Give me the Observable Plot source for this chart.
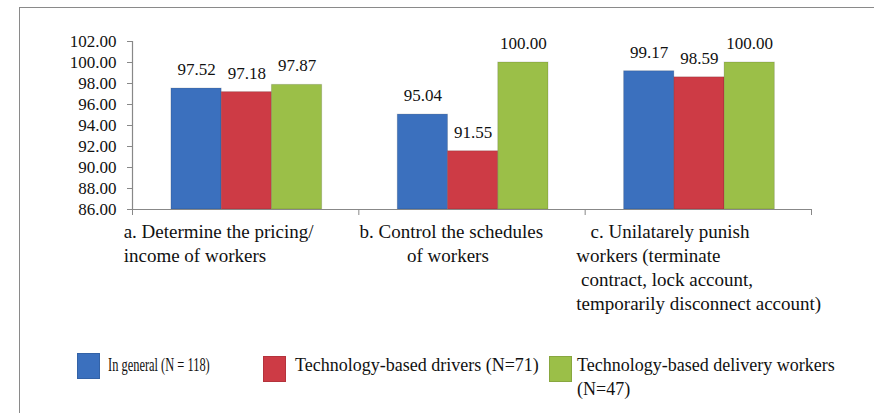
<!DOCTYPE html>
<html>
<head>
<meta charset="utf-8">
<script src="https://cdn.jsdelivr.net/npm/d3@7"></script>
<script src="https://cdn.jsdelivr.net/npm/@observablehq/plot@0.6"></script>
<style>
  html, body { margin: 0; padding: 0; background: #fff; }
  body { width: 874px; height: 413px; overflow: hidden; position: relative; font-family: "Liberation Serif", "DejaVu Serif", serif; }
  #frame { position: absolute; left: 19px; top: 7px; width: 900px; height: 450px; border-left: 1.5px solid #8a8a8a; border-top: 1.5px solid #8a8a8a; }
  #chart { position: absolute; left: 0; top: 0; }
  #legend { position: absolute; left: 0; top: 0; width: 874px; height: 413px; color: #111; font-size: 18px; font-family: "Liberation Serif", "DejaVu Serif", serif; }
  #chart svg, #chart svg text { font-family: "Liberation Serif", "DejaVu Serif", serif; }
  .sw { position: absolute; width: 23px; height: 26px; box-sizing: border-box; border: 1px solid rgba(0,0,0,0.12); }
  .lt { position: absolute; line-height: 24px; white-space: nowrap; }
</style>
</head>
<body>
<div id="frame"></div>
<div id="chart"></div>
<div id="legend"></div>
<script>
// ---- data ----
const groups = ["a", "b", "c"];
const categoryLabels = [
  "a. Determine the pricing/\nincome of workers",
  "\u00a0\u00a0b. Control the schedules\n\u00a0\u00a0\u00a0\u00a0\u00a0\u00a0\u00a0\u00a0\u00a0\u00a0\u00a0\u00a0of workers",
  "\u00a0\u00a0\u00a0c. Unilatarely punish\nworkers (terminate\n\u00a0contract, lock account,\ntemporarily disconnect account)"
];
const seriesNames = ["In general (N = 118)", "Technology-based drivers (N=71)", "Technology-based delivery workers (N=47)"];
const inGeneral = [97.52, 95.04, 99.17];
const drivers = [97.18, 91.55, 98.59];
const deliveryWorkers = [97.87, 100.00, 100.00];
const yTicks = [86, 88, 90, 92, 94, 96, 98, 100, 102];
const colors = ["#3b70be", "#cd3b45", "#9bbf48"];

const seriesValues = [inGeneral, drivers, deliveryWorkers];
const data = [];
seriesValues.forEach((vals, si) => vals.forEach((v, gi) => data.push({gi, si, series: seriesNames[si], value: v})));

// layout within a group (fractions of one group width)
const offset = 0.172, bw = 0.222;
const x1 = d => d.gi - 0.5 + offset + d.si * bw;
const x2 = d => x1(d) + bw;
const xc = d => x1(d) + bw / 2;

const chart = Plot.plot({
  width: 874,
  height: 335,
  marginLeft: 132,
  marginRight: 63,
  marginTop: 41,
  marginBottom: 126,
  x: {domain: [-0.5, 2.5]},
  y: {domain: [86, 102]},
  color: {domain: seriesNames, range: colors},
  style: {background: "transparent", color: "#111"},
  marks: [
    Plot.axisY({ticks: yTicks, tickFormat: d => d.toFixed(2), tickSize: 5, tickPadding: 11, fontSize: 17, stroke: "#888", fill: "#111", label: null}),
    Plot.axisX({ticks: [-0.5, 0.5, 1.5, 2.5], tickFormat: () => "", tickSize: 6, stroke: "#888", label: null}),
    Plot.rectY(data, {x1, x2, y1: 86, y2: "value", fill: "series", stroke: "black", strokeOpacity: 0.14, strokeWidth: 1}),
    Plot.ruleY([86], {stroke: "#888", strokeWidth: 1.2}),
    Plot.ruleX([-0.5], {stroke: "#888", strokeWidth: 1.2}),
    Plot.text(data, {x: xc, y: "value", text: d => d.value.toFixed(2), dy: -19, fontSize: 17, fill: "#111"}),
    Plot.text(groups, {x: (d, i) => i, frameAnchor: "bottom", text: (d, i) => categoryLabels[i], lineAnchor: "top", textAnchor: "start", dx: -122, dy: 12, fontSize: 19, lineHeight: 1.25, fill: "#111"})
  ]
});
document.getElementById("chart").appendChild(chart);

// ---- legend ----
const legend = document.getElementById("legend");
const swX = [77, 263, 549];
const txX = [108, 295, 577];
seriesNames.forEach((name, i) => {
  const sw = document.createElement("div");
  sw.className = "sw";
  sw.style.left = swX[i] + "px";
  sw.style.top = (i === 0 ? 353 : 356) + "px";
  sw.style.background = colors[i];
  legend.appendChild(sw);
  const t = document.createElement("div");
  t.className = "lt";
  t.style.left = txX[i] + "px";
  t.style.top = "353px";
  if (i === 2) {
    t.style.whiteSpace = "normal";
    t.style.width = "270px";
  }
  if (i === 0) {
    t.style.transformOrigin = "left center";
    t.style.transform = "scaleX(0.69)";
  }
  t.textContent = name;
  legend.appendChild(t);
});
</script>
</body>
</html>
